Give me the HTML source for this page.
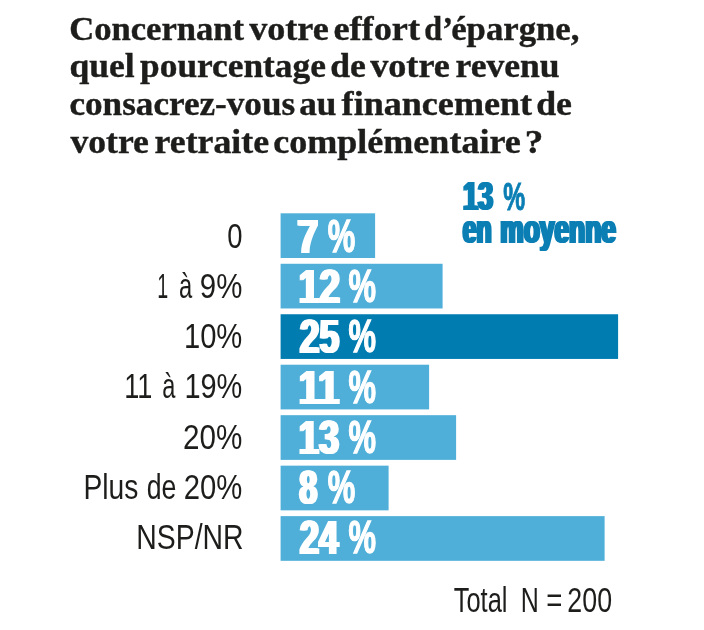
<!DOCTYPE html>
<html lang="fr"><head><meta charset="utf-8"><title>Effort d’épargne</title>
<style>
html,body{margin:0;padding:0;background:#fff}
svg{display:block}
text{white-space:pre}
.title{font:bold 34px "Liberation Serif",serif;fill:#1d1d1b;stroke:#1d1d1b;stroke-width:.4px}
.avg1{font:bold 40.5px "Liberation Sans",sans-serif;fill:#0b7fb4;filter:url(#fat-455-498)}
.avg1 .pc{font-size:39.2px;stroke:#0b7fb4;stroke-width:1px}
.avg2{font:bold 41px "Liberation Sans",sans-serif;fill:#0b7fb4;filter:url(#fat)}
.lab{font:35px "Liberation Sans",sans-serif;fill:#1d1d1b}
.val1,.val2{font:bold 48.4px "Liberation Sans",sans-serif;fill:#fff}
.val1{filter:url(#fat-290-323)}
.val2{filter:url(#fat-290-344)}
.val1 .pc,.val2 .pc{font-size:46.6px;stroke:#fff;stroke-width:1.4px}
</style></head><body>
<svg width="704" height="630" viewBox="0 0 704 630">
<rect width="704" height="630" fill="#fff"/>
<defs>
<filter id="fat-455-498" filterUnits="userSpaceOnUse" x="0" y="0" width="704" height="630" primitiveUnits="userSpaceOnUse" color-interpolation-filters="sRGB"><feOffset in="SourceGraphic" dx="2" x="455" y="0" width="43" height="630" result="a"/><feOffset in="SourceGraphic" dx="1" x="455" y="0" width="43" height="630" result="c"/><feOffset in="SourceGraphic" dx="-1" x="455" y="0" width="43" height="630" result="b"/><feMerge><feMergeNode in="a"/><feMergeNode in="b"/><feMergeNode in="c"/><feMergeNode in="SourceGraphic"/></feMerge></filter>
<filter id="fat" filterUnits="userSpaceOnUse" x="0" y="0" width="704" height="630" primitiveUnits="userSpaceOnUse" color-interpolation-filters="sRGB"><feOffset in="SourceGraphic" dx="2" result="a"/><feOffset in="SourceGraphic" dx="1" result="c"/><feOffset in="SourceGraphic" dx="-1" result="b"/><feMerge><feMergeNode in="a"/><feMergeNode in="b"/><feMergeNode in="c"/><feMergeNode in="SourceGraphic"/></feMerge></filter>
<filter id="fat-290-323" filterUnits="userSpaceOnUse" x="0" y="0" width="704" height="630" primitiveUnits="userSpaceOnUse" color-interpolation-filters="sRGB"><feOffset in="SourceGraphic" dx="2" x="290" y="0" width="33" height="630" result="a"/><feOffset in="SourceGraphic" dx="1" x="290" y="0" width="33" height="630" result="c"/><feOffset in="SourceGraphic" dx="-1" x="290" y="0" width="33" height="630" result="b"/><feMerge><feMergeNode in="a"/><feMergeNode in="b"/><feMergeNode in="c"/><feMergeNode in="SourceGraphic"/></feMerge></filter>
<filter id="fat-290-344" filterUnits="userSpaceOnUse" x="0" y="0" width="704" height="630" primitiveUnits="userSpaceOnUse" color-interpolation-filters="sRGB"><feOffset in="SourceGraphic" dx="2" x="290" y="0" width="54" height="630" result="a"/><feOffset in="SourceGraphic" dx="1" x="290" y="0" width="54" height="630" result="c"/><feOffset in="SourceGraphic" dx="-1" x="290" y="0" width="54" height="630" result="b"/><feMerge><feMergeNode in="a"/><feMergeNode in="b"/><feMergeNode in="c"/><feMergeNode in="SourceGraphic"/></feMerge></filter>
</defs>
<g id="titre">
<text class="title" y="40"><tspan x="69.19" textLength="174.92" lengthAdjust="spacingAndGlyphs">Concernant</tspan> <tspan x="249.21" textLength="79.57" lengthAdjust="spacingAndGlyphs">votre</tspan> <tspan x="333.45" textLength="86.52" lengthAdjust="spacingAndGlyphs">effort</tspan> <tspan x="424.34" textLength="28.56" lengthAdjust="spacingAndGlyphs">d’</tspan><tspan x="451.18" textLength="128.22" lengthAdjust="spacingAndGlyphs">épargne,</tspan></text>
<text class="title" y="77"><tspan x="69.46" textLength="65.19" lengthAdjust="spacingAndGlyphs">quel</tspan> <tspan x="140.11" textLength="185.78" lengthAdjust="spacingAndGlyphs">pourcentage</tspan> <tspan x="330.26" textLength="35.62" lengthAdjust="spacingAndGlyphs">de</tspan> <tspan x="370.21" textLength="79.67" lengthAdjust="spacingAndGlyphs">votre</tspan> <tspan x="455.51" textLength="104.13" lengthAdjust="spacingAndGlyphs">revenu</tspan></text>
<text class="title" y="115"><tspan x="69.47" textLength="225.66" lengthAdjust="spacingAndGlyphs">consacrez-vous</tspan> <tspan x="299.17" textLength="37.27" lengthAdjust="spacingAndGlyphs">au</tspan> <tspan x="341.61" textLength="190.46" lengthAdjust="spacingAndGlyphs">financement</tspan> <tspan x="536.16" textLength="35.73" lengthAdjust="spacingAndGlyphs">de</tspan></text>
<text class="title" y="153"><tspan x="70.51" textLength="78.38" lengthAdjust="spacingAndGlyphs">votre</tspan> <tspan x="154.61" textLength="114.38" lengthAdjust="spacingAndGlyphs">retraite</tspan> <tspan x="273.15" textLength="247.73" lengthAdjust="spacingAndGlyphs">complémentaire</tspan> <tspan x="524.74" textLength="18.52" lengthAdjust="spacingAndGlyphs">?</tspan></text>
</g>
<g id="moyenne">
<text class="avg1" y="210"><tspan x="462.56" textLength="30.09" lengthAdjust="spacingAndGlyphs">13</tspan> <tspan x="503.31" textLength="21.90" lengthAdjust="spacingAndGlyphs" class="pc">%</tspan></text>
<text class="avg2" y="243"><tspan x="462.30" textLength="28.83" lengthAdjust="spacingAndGlyphs">en</tspan> <tspan x="499.71" textLength="115.70" lengthAdjust="spacingAndGlyphs">moyenne</tspan></text>
</g>
<g id="barres">
<g>
<rect x="280.6" y="213.30" width="94.5" height="44.7" fill="#4fafd9"/>
<text class="lab" y="248"><tspan x="227.22" textLength="15.25" lengthAdjust="spacingAndGlyphs">0</tspan></text>
<text class="val1" y="253"><tspan x="296.84" textLength="20.94" lengthAdjust="spacingAndGlyphs">7</tspan> <tspan x="327.80" textLength="27.52" lengthAdjust="spacingAndGlyphs" class="pc" dy="-0.7">%</tspan></text>
</g>
<g>
<rect x="280.6" y="263.77" width="162.0" height="44.7" fill="#4fafd9"/>
<text class="lab" y="298"><tspan x="157.28" textLength="10.95" lengthAdjust="spacingAndGlyphs">1</tspan> <tspan x="179.12" textLength="13.22" lengthAdjust="spacingAndGlyphs">à</tspan> <tspan x="199.86" textLength="42.48" lengthAdjust="spacingAndGlyphs">9%</tspan></text>
<text class="val2" y="303"><tspan x="298.31" textLength="41.16" lengthAdjust="spacingAndGlyphs">12</tspan> <tspan x="348.40" textLength="27.52" lengthAdjust="spacingAndGlyphs" class="pc" dy="-0.7">%</tspan></text>
</g>
<g>
<rect x="280.6" y="314.24" width="337.5" height="44.7" fill="#017cb1"/>
<text class="lab" y="348"><tspan x="183.93" textLength="58.40" lengthAdjust="spacingAndGlyphs">10%</tspan></text>
<text class="val2" y="353"><tspan x="299.17" textLength="39.50" lengthAdjust="spacingAndGlyphs">25</tspan> <tspan x="348.40" textLength="27.52" lengthAdjust="spacingAndGlyphs" class="pc" dy="-0.7">%</tspan></text>
</g>
<g>
<rect x="280.6" y="364.71" width="148.5" height="44.7" fill="#4fafd9"/>
<text class="lab" y="398"><tspan x="124.25" textLength="28.19" lengthAdjust="spacingAndGlyphs">11</tspan> <tspan x="162.23" textLength="13.11" lengthAdjust="spacingAndGlyphs">à</tspan> <tspan x="184.45" textLength="57.88" lengthAdjust="spacingAndGlyphs">19%</tspan></text>
<text class="val2" y="404"><tspan x="298.22" textLength="40.50" lengthAdjust="spacingAndGlyphs">11</tspan> <tspan x="348.40" textLength="27.52" lengthAdjust="spacingAndGlyphs" class="pc" dy="-0.7">%</tspan></text>
</g>
<g>
<rect x="280.6" y="415.18" width="175.5" height="44.7" fill="#4fafd9"/>
<text class="lab" y="449"><tspan x="183.05" textLength="59.29" lengthAdjust="spacingAndGlyphs">20%</tspan></text>
<text class="val2" y="454"><tspan x="298.35" textLength="40.33" lengthAdjust="spacingAndGlyphs">13</tspan> <tspan x="348.40" textLength="27.52" lengthAdjust="spacingAndGlyphs" class="pc" dy="-0.7">%</tspan></text>
</g>
<g>
<rect x="280.6" y="465.65" width="108.0" height="44.7" fill="#4fafd9"/>
<text class="lab" y="499"><tspan x="83.39" textLength="54.92" lengthAdjust="spacingAndGlyphs">Plus</tspan> <tspan x="146.64" textLength="29.68" lengthAdjust="spacingAndGlyphs">de</tspan> <tspan x="183.76" textLength="58.57" lengthAdjust="spacingAndGlyphs">20%</tspan></text>
<text class="val1" y="504"><tspan x="298.83" textLength="18.09" lengthAdjust="spacingAndGlyphs">8</tspan> <tspan x="327.80" textLength="27.52" lengthAdjust="spacingAndGlyphs" class="pc" dy="-0.7">%</tspan></text>
</g>
<g>
<rect x="280.6" y="516.12" width="324.0" height="44.7" fill="#4fafd9"/>
<text class="lab" y="549"><tspan x="136.28" textLength="107.36" lengthAdjust="spacingAndGlyphs">NSP/NR</tspan></text>
<text class="val2" y="554"><tspan x="299.18" textLength="38.76" lengthAdjust="spacingAndGlyphs">24</tspan> <tspan x="348.40" textLength="27.52" lengthAdjust="spacingAndGlyphs" class="pc" dy="-0.7">%</tspan></text>
</g>
</g>
<text class="lab" y="612"><tspan x="453.70" textLength="53.79" lengthAdjust="spacingAndGlyphs">Total</tspan> <tspan x="520.87" textLength="18.05" lengthAdjust="spacingAndGlyphs">N</tspan> <tspan x="546.21" textLength="16.12" lengthAdjust="spacingAndGlyphs">=</tspan> <tspan x="567.33" textLength="44.72" lengthAdjust="spacingAndGlyphs">200</tspan></text>
</svg></body></html>
